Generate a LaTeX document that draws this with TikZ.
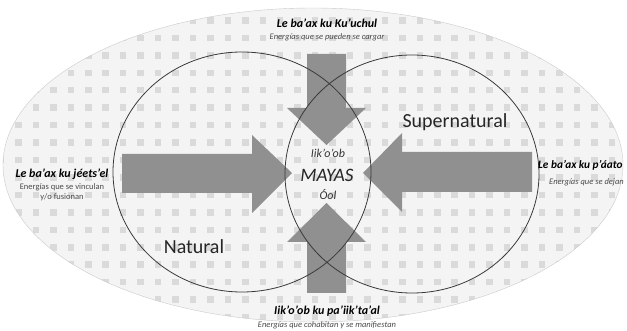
\documentclass[tikz,border=0pt]{standalone}
\usepackage{fontspec}
\setmainfont{Carlito}
\usetikzlibrary{positioning}

\definecolor{fieldgray}{HTML}{F4F4F4}
\definecolor{dotgray}{HTML}{DADADA}
\definecolor{edgegray}{HTML}{CACACA}
\definecolor{arrowgray}{HTML}{909090}
\definecolor{ringgray}{HTML}{3A3A3A}
\definecolor{subgray}{HTML}{4A4A4A}

\begin{document}
\begin{tikzpicture}[x=1pt,y=-1pt,
  blockarrow/.style={fill=arrowgray},
  ring/.style={draw=ringgray, line width=0.8pt},
  title/.style={font=\bfseries\itshape\fontsize{12}{13}\selectfont, inner sep=0pt},
  sub/.style={font=\itshape\fontsize{8.5}{10}\selectfont, text=subgray, align=center, inner sep=0pt},
  realm/.style={font=\fontsize{20}{22}\selectfont, text=black!85}]
  %
  \useasboundingbox (0,0) rectangle (627,331);
  \clip (0,0) rectangle (627,331);
  %
  \coordinate (o) at (313,165);
  \coordinate (nat) at (242,172);
  \coordinate (sup) at (412,174);
  %
  % patterned field
  \begin{scope}
    \clip (o) ellipse [x radius=310, y radius=157];
    \fill[fieldgray] (o) ellipse [x radius=310, y radius=157];
    \foreach \i in {0,...,36}
      \foreach \j in {0,...,19}
        \fill[dotgray] (1+17.45*\i-3.25, 3+17.45*\j-3.25) rectangle ++(6.5,6.5);
  \end{scope}
  \draw[edgegray] (o) ellipse [x radius=310, y radius=157];
  %
  % arrows
  \fill[blockarrow] (122,154) -- (252,154) -- (252,135) -- (292,173)
    -- (252,213) -- (252,193) -- (122,193) -- cycle;
  \fill[blockarrow] (532,152) -- (402,152) -- (402,133) -- (363,173)
    -- (402,212) -- (402,192) -- (532,192) -- cycle;
  \fill[blockarrow] (307,54) -- (346,54) -- (346,108) -- (366,108)
    -- (326.5,145) -- (287,108) -- (307,108) -- cycle;
  \fill[blockarrow] (307,293) -- (346,293) -- (346,242) -- (366,242)
    -- (326.5,203) -- (287,242) -- (307,242) -- cycle;
  %
  % realms
  \draw[ring] (nat) ellipse [x radius=129, y radius=120];
  \draw[ring] (sup) ellipse [x radius=127, y radius=119];
  %
  \node[realm] (natural) at (194,247) {Natural};
  \node[realm] (supernatural) at (455,122) {Supernatural};
  %
  % centre
  \node[font=\itshape\fontsize{12}{14}\selectfont, text=black!80] (iikoob) at (328,153) {Iik'o'ob};
  \node[font=\itshape\fontsize{19}{21}\selectfont, text=black!85] (mayas) at (327,175) {MAYAS};
  \node[font=\itshape\fontsize{12}{14}\selectfont, text=black!80] (ool) at (328,195) {Óol};
  %
  % energies
  \node[title] (kuuchul) at (327,23) {Le ba'ax ku Ku'uchul};
  \node[sub, below=6pt of kuuchul] (kuuchul-sub) {Energías que se pueden se cargar};
  %
  \node[title] (jeetsel) at (62,174) {Le ba'ax ku jéets'el};
  \node[sub, font=\fontsize{8.5}{10}\selectfont, below=4pt of jeetsel] (jeetsel-sub) {Energías que se vinculan\\y/o fusionan};
  %
  \node[title, font=\bfseries\itshape\fontsize{11.3}{13}\selectfont, anchor=west] (paato) at (538,165) {Le ba'ax ku p'áato};
  \node[sub, anchor=north west] (paato-sub) at (549,178) {Energías que se dejan};
  %
  \node[title] (paiiktaal) at (327,311) {Iik'o'ob ku pa'iik'ta'al};
  \node[sub, below=5pt of paiiktaal] (paiiktaal-sub) {Energías que cohabitan y se manifiestan};
\end{tikzpicture}
\end{document}
